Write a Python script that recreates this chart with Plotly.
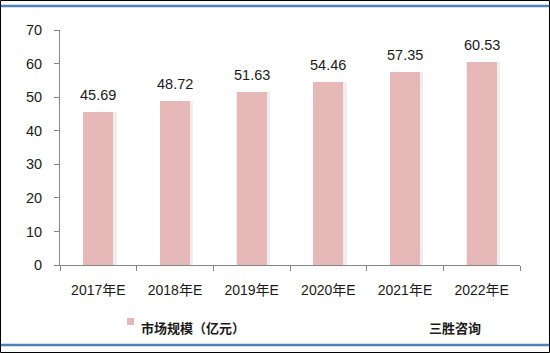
import plotly.graph_objects as go

categories = ["2017年E", "2018年E", "2019年E", "2020年E", "2021年E", "2022年E"]
values = [45.69, 48.72, 51.63, 54.46, 57.35, 60.53]
series_name = "市场规模（亿元）"
source_text = "三胜咨询"
y_ticks = [0, 10, 20, 30, 40, 50, 60, 70]

W, H = 550, 353
L, R, T, B = 60, 30, 30, 88
pw, ph = W - L - R, H - T - B

def px_x(p):
    return (p - L) / pw

def px_y(p):
    return (H - B - p) / ph

bar_w = 0.39
bar_color = "#E6B9B8"
font_fam = "Liberation Sans, Noto Sans CJK SC, sans-serif"

fig = go.Figure()
# soft shadow
fig.add_trace(go.Bar(
    x=categories, y=values, width=bar_w + 0.05, offset=-bar_w / 2 - 0.005,
    marker=dict(color="rgba(205,205,205,0.35)", line=dict(width=0)),
    showlegend=False, hoverinfo="skip",
))
fig.add_trace(go.Bar(
    x=categories, y=values, width=bar_w, offset=-bar_w / 2,
    name=series_name, showlegend=False,
    marker=dict(color=bar_color, line=dict(width=0)),
))

for c, v in zip(categories, values):
    fig.add_annotation(x=c, y=v, text=f"{v:.2f}", showarrow=False,
                       yshift=17, font=dict(size=14.5, color="#1a1a1a", family=font_fam))

# legend (manual, small swatch)
fig.add_annotation(xref="paper", yref="paper", x=px_x(139), y=px_y(327),
                   xanchor="left", yanchor="middle", showarrow=False,
                   text="<b>" + series_name + "</b>",
                   font=dict(size=13, color="#1a1a1a", family="Noto Sans CJK SC"))
fig.add_annotation(xref="paper", yref="paper", x=px_x(427), y=px_y(327),
                   xanchor="left", yanchor="middle", showarrow=False,
                   text="<b>" + source_text + "</b>",
                   font=dict(size=13, color="#1a1a1a", family="Noto Sans CJK SC"))

shapes = [
    dict(type="rect", xref="paper", yref="paper", x0=px_x(127), x1=px_x(134),
         y0=px_y(318), y1=px_y(325), fillcolor=bar_color, line=dict(width=0)),
    dict(type="rect", xref="paper", yref="paper", x0=px_x(0.5), x1=px_x(549.5),
         y0=px_y(0.5), y1=px_y(352.5), line=dict(color="#000000", width=1)),
    dict(type="line", xref="paper", yref="paper", x0=px_x(1), x1=px_x(549),
         y0=px_y(6), y1=px_y(6), line=dict(color="#4F81BD", width=2.5)),
    dict(type="line", xref="paper", yref="paper", x0=px_x(1), x1=px_x(549),
         y0=px_y(345), y1=px_y(345), line=dict(color="#4F81BD", width=2.5)),
]

fig.update_layout(
    width=W, height=H,
    margin=dict(l=L, r=R, t=T, b=B),
    paper_bgcolor="white", plot_bgcolor="white",
    barmode="overlay",
    bargap=0,
    shapes=shapes,
    showlegend=False,
    xaxis=dict(
        type="category", showline=True, linecolor="#868686", linewidth=1,
        ticks="outside", tickson="boundaries", ticklen=5, tickcolor="#868686",
        ticklabelstandoff=12,
        tickfont=dict(size=14, color="#1a1a1a", family=font_fam),
        showgrid=False, zeroline=False, fixedrange=True,
    ),
    yaxis=dict(
        range=[0, 70], tickvals=y_ticks, showline=True, linecolor="#868686", linewidth=1,
        ticks="outside", ticklen=5, tickcolor="#868686",
        ticklabelstandoff=9,
        tickfont=dict(size=14.5, color="#1a1a1a", family=font_fam),
        showgrid=False, zeroline=False, fixedrange=True,
    ),
)

fig.write_html("out.html")
